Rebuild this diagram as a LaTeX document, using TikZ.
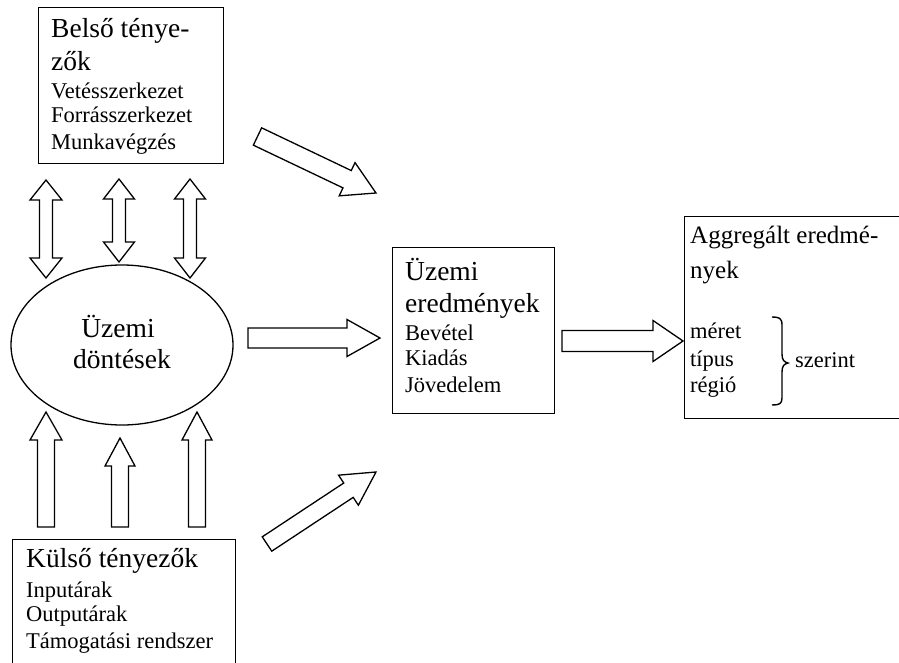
\documentclass[tikz,border=0pt]{standalone}
\usepackage{fontspec}
\setmainfont{Liberation Serif}
\usetikzlibrary{calc,shapes.geometric}
\newcommand\bigtxt{\fontsize{27.5}{32}\selectfont}
\newcommand\aggtxt{\fontsize{25}{30}\selectfont}
\newcommand\smtxt{\fontsize{22.5}{26}\selectfont}
% block arrow: name, tail, tip, shaft half, head half, head length
\newcommand\blockarrow[6]{%
  \coordinate (#1-h) at ($(#3)!#6!(#2)$);
  \draw[arr] ($(#2)!#4!90:(#3)$) -- ($(#1-h)!#4!90:(#3)$) -- ($(#1-h)!#5!90:(#3)$) -- (#3)
     -- ($(#1-h)!#5!-90:(#3)$) -- ($(#1-h)!#4!-90:(#3)$) -- ($(#2)!#4!-90:(#3)$) -- cycle;}
% double block arrow: name, end1, end2, shaft half, head half, head length
\newcommand\dblarrow[6]{%
  \coordinate (#1-a) at ($(#2)!#6!(#3)$);
  \coordinate (#1-b) at ($(#3)!#6!(#2)$);
  \draw[arr] (#2) -- ($(#1-a)!#5!90:(#3)$) -- ($(#1-a)!#4!90:(#3)$) -- ($(#1-b)!#4!90:(#3)$)
     -- ($(#1-b)!#5!90:(#3)$) -- (#3) -- ($(#1-b)!#5!-90:(#3)$) -- ($(#1-b)!#4!-90:(#3)$)
     -- ($(#1-a)!#4!-90:(#3)$) -- ($(#1-a)!#5!-90:(#3)$) -- cycle;}
\begin{document}
\begin{tikzpicture}[x=1pt,y=-1pt,
  box/.style={draw, line width=1.3pt, rectangle, inner sep=0pt, anchor=north west},
  arr/.style={draw, fill=white, line width=1.3pt, line join=miter},
  big/.style={anchor=base west, inner sep=0pt, font=\bigtxt},
  agg/.style={anchor=base west, inner sep=0pt, font=\aggtxt},
  sm/.style={anchor=base west, inner sep=0pt, font=\smtxt}]
\useasboundingbox (0,0) rectangle (899,663);
\fill[white] (0,0) rectangle (899,663);
\clip (0,0) rectangle (899,663);

% boxes
\node[box, minimum width=185pt, minimum height=156pt] (belso) at (38,7) {};
\node[box, minimum width=162pt, minimum height=166pt] (uzemer) at (392,247) {};
\node[box, minimum width=223pt, minimum height=150pt] (kulso) at (12,539) {};
\node[box, minimum width=230pt, minimum height=202pt] (aggr) at (684,216) {};
\node[draw, ellipse, line width=1.3pt, minimum width=222pt, minimum height=160pt, inner sep=0pt] (dont) at (122,345) {};

% texts
\node[big] (b1) at (51,38) {Belső ténye-};
\node[big] (b2) at (51,71) {zők};
\node[sm] (b3) at (51,99) {Vetésszerkezet};
\node[sm] (b4) at (51,123) {Forrásszerkezet};
\node[sm] (b5) at (51,150) {Munkavégzés};

\node[big, anchor=base] (d1) at (118,337) {Üzemi};
\node[big, anchor=base] (d2) at (122,368) {döntések};

\node[big] (u1) at (405,280) {Üzemi};
\node[big] (u2) at (405,312) {eredmények};
\node[sm] (u3) at (405,340) {Bevétel};
\node[sm] (u4) at (405,365) {Kiadás};
\node[sm] (u5) at (405,392) {Jövedelem};

\node[big] (k1) at (26,567) {Külső tényezők};
\node[sm] (k2) at (26,597) {Inputárak};
\node[sm] (k3) at (26,621) {Outputárak};
\node[sm] (k4) at (26,648) {Támogatási rendszer};

\node[agg] (a1) at (690,243) {Aggregált eredmé-};
\node[agg] (a2) at (690,278) {nyek};
\node[sm] (a3) at (690,338) {méret};
\node[sm] (a4) at (690,366) {típus};
\node[sm] (a5) at (690,392) {régió};
\node[sm] (a6) at (795,367) {szerint};

% brace
\draw[line width=1.4pt] (772,317) .. controls (779,317) and (782,318) .. (782,325) -- (782,354)
  .. controls (782,360) and (784,362) .. (788,363) .. controls (784,364) and (782,366) .. (782,372)
  -- (782,398) .. controls (782,404) and (779,405) .. (772,405);

% double arrows between belso and dont
\coordinate (da1) at (46,180); \coordinate (db1) at (46,278);
\coordinate (da2) at (119,179); \coordinate (db2) at (119,262);
\coordinate (da3) at (190,179); \coordinate (db3) at (190,278);
\dblarrow{d1}{da1}{db1}{6.5pt}{16pt}{20pt}
\dblarrow{d2}{da2}{db2}{6.5pt}{15.5pt}{20pt}
\dblarrow{d3}{da3}{db3}{6.5pt}{15.5pt}{20pt}

% up arrows from kulso to dont
\coordinate (ua1) at (46,527); \coordinate (ub1) at (46,412);
\coordinate (ua2) at (120,527); \coordinate (ub2) at (120,438);
\coordinate (ua3) at (197,527); \coordinate (ub3) at (197,412);
\blockarrow{u1}{ua1}{ub1}{8.5pt}{16pt}{28pt}
\blockarrow{u2}{ua2}{ub2}{8.5pt}{15pt}{28pt}
\blockarrow{u3}{ua3}{ub3}{8.5pt}{15pt}{28pt}

% horizontal arrows
\coordinate (h1a) at (248,338); \coordinate (h1b) at (380,338);
\blockarrow{h1}{h1a}{h1b}{10pt}{18.5pt}{33pt}
\coordinate (h2a) at (562,341); \coordinate (h2b) at (683,341);
\blockarrow{h2}{h2a}{h2b}{10.5pt}{20.5pt}{30pt}

% diagonal arrows
\coordinate (g1a) at (257.5,136.5); \coordinate (g1b) at (376,193);
\blockarrow{g1}{g1a}{g1b}{9.6pt}{18.4pt}{32pt}
\coordinate (g2a) at (267,544); \coordinate (g2b) at (376,472);
\blockarrow{g2}{g2a}{g2b}{8.6pt}{18pt}{33pt}
\end{tikzpicture}
\end{document}
